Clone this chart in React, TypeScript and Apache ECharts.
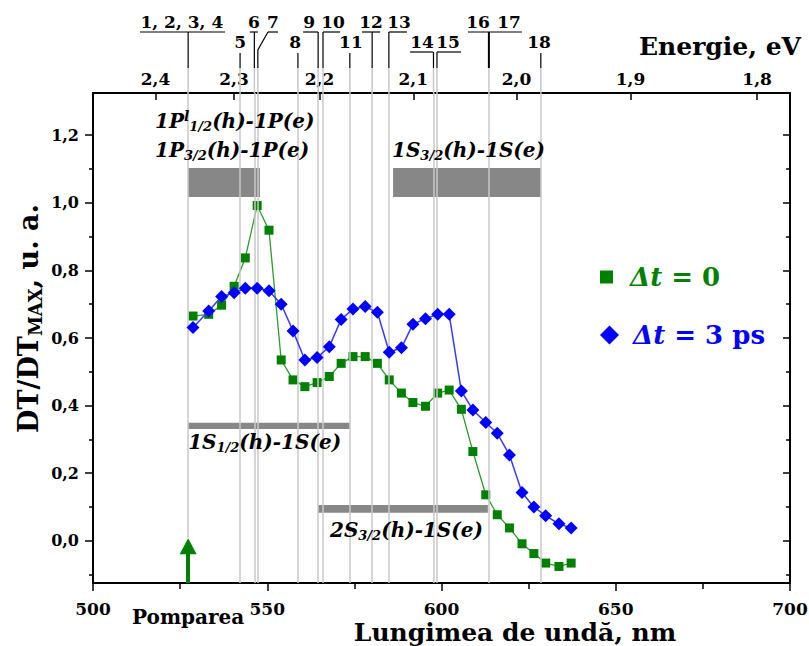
import React, { useEffect, useRef } from 'react';
import * as echarts from 'echarts';

const FONT = 'DejaVu Serif';
const SERIES_0 = 'Δt = 0';
const SERIES_3 = 'Δt = 3 ps';

// wavelength (nm) of every measured point
const wavelengths = [528.7, 533.2, 536.9, 540.5, 543.7, 547.1, 550.5, 554.0, 557.4, 560.8, 564.3, 567.8, 571.2, 574.6, 578.1, 581.6, 585.0, 588.5, 591.8, 595.4, 598.9, 602.2, 605.7, 609.0, 612.7, 616.0, 619.5, 623.1, 626.5, 629.9, 633.7, 637.2];
// DT/DTmax at Δt = 0
const dt0 = [0.665, 0.670, 0.697, 0.753, 0.837, 0.992, 0.919, 0.535, 0.476, 0.456, 0.468, 0.486, 0.525, 0.545, 0.545, 0.525, 0.476, 0.437, 0.409, 0.398, 0.437, 0.446, 0.389, 0.264, 0.136, 0.077, 0.038, -0.009, -0.038, -0.066, -0.076, -0.066];
// DT/DTmax at Δt = 3 ps
const dt3 = [0.631, 0.680, 0.723, 0.734, 0.747, 0.747, 0.740, 0.700, 0.621, 0.535, 0.542, 0.574, 0.655, 0.686, 0.693, 0.676, 0.558, 0.571, 0.641, 0.657, 0.670, 0.670, 0.443, 0.387, 0.350, 0.318, 0.254, 0.143, 0.100, 0.074, 0.050, 0.038];

const X_MIN = 500;
const X_MAX = 700;
const Y_MIN = -0.125;
const Y_MAX = 1.325;
const yMajorTicks = [0, 0.2, 0.4, 0.6, 0.8, 1.0, 1.2];
const yMinorTicks = [-0.1, 0.1, 0.3, 0.5, 0.7, 0.9, 1.1];
const energyTicks = [2.4, 2.3, 2.2, 2.1, 2.0, 1.9, 1.8];
const HC = 1243; // eV·nm

// transition wavelengths (nm), numbered 1..18 on top
const transitionLines = [527.3, 542.2, 546.3, 547.3, 558.8, 564.6, 566.0, 573.7, 580.1, 584.9, 597.7, 598.7, 613.6, 628.5];
const pumpWavelength = 527.3;
const pumpLineEnd = 0.009;
const pumpArrowEnd = -0.016;

// grey bands: [from nm, to nm, low, high]
const bandFrom = [527.3, 586.1, 527.3, 564.6];
const bandTo = [547.9, 628.5, 573.7, 613.3];
const bandLow = [1.017, 1.017, 0.331, 0.083];
const bandHigh = [1.103, 1.103, 0.349, 0.106];

// band labels (anchor at left edge, in data units)
const bandLabelText = [
  '{m|1P}{sup|l}{s|1/2}{m|(h)-1P(e)}',
  '{m|1P}{s|3/2}{m|(h)-1P(e)}',
  '{m|1S}{s|3/2}{m|(h)-1S(e)}',
  '{m|1S}{s|1/2}{m|(h)-1S(e)}',
  '{m|2S}{s|3/2}{m|(h)-1S(e)}',
];
const bandLabelX = [517.8, 517.8, 585.8, 527.3, 568.0];
const bandLabelY = [1.2415, 1.157, 1.157, 0.293, 0.0325];

// numbered transitions on top: text, text centre (nm), row, line (nm), underline (nm)
const peakLabels: { text: string; at: number; row: number; line?: number; under?: number[]; slant?: boolean }[] = [
  { text: '1, 2, 3, 4', at: 525.5, row: 0, line: 527.3, under: [513.5, 537.9] },
  { text: '5', at: 542.2, row: 1, line: 542.2 },
  { text: '6', at: 546.2, row: 0, line: 546.3, under: [545.0, 547.3] },
  { text: '7', at: 551.6, row: 0, line: 547.3, under: [550.2, 553.1], slant: true },
  { text: '8', at: 558.0, row: 1, line: 558.8 },
  { text: '9', at: 562.0, row: 0, line: 564.6, under: [560.3, 564.6] },
  { text: '10', at: 568.9, row: 0, line: 566.0, under: [566.0, 570.9] },
  { text: '11', at: 574.0, row: 1, line: 573.7 },
  { text: '12', at: 579.8, row: 0, line: 580.1, under: [577.2, 582.4] },
  { text: '13', at: 587.8, row: 0, line: 584.9, under: [584.9, 590.1] },
  { text: '14', at: 594.4, row: 1, line: 597.7, under: [591.0, 597.6] },
  { text: '15', at: 601.9, row: 1, line: 598.7, under: [598.7, 605.6] },
  { text: '16', at: 610.5, row: 0, line: 613.6, under: [607.6, 623.1] },
  { text: '17', at: 619.4, row: 0 },
  { text: '18', at: 628.0, row: 1, line: 628.5 },
];

const GREEN = '#008000';
const BLUE = '#0000ff';
const GREY_LINE = '#c8c8c8';
const GREY_BAND = '#878787';

const axisLineStyle = { color: '#000', width: 2 };
const tickStyle = { color: '#000', width: 1.5 };

function buildOption(): any {
  const yBase = { type: 'value', min: Y_MIN, max: Y_MAX, splitLine: { show: false } };
  const energyPos = energyTicks.map((e) => HC / e);
  const richItalic = {
    i: { fontFamily: FONT, fontSize: 26, fontWeight: 'bold', fontStyle: 'italic', padding: [0, 0, 0, 12] },
    n: { fontFamily: FONT, fontSize: 26, fontWeight: 'bold' },
  };
  return {
    animation: false,
    grid: { left: 93, right: 19, top: 93, bottom: 63, containLabel: false, outerBoundsMode: 'none' },
    xAxis: [
      {
        type: 'value', position: 'bottom', min: X_MIN, max: X_MAX, interval: 50,
        axisLine: { show: true, onZero: false, lineStyle: axisLineStyle },
        axisTick: { show: true, length: 8, lineStyle: tickStyle },
        minorTick: { show: true, splitNumber: 2, length: 6, lineStyle: tickStyle },
        splitLine: { show: false },
        axisLabel: { fontFamily: FONT, fontWeight: 'bold', fontSize: 17, lineHeight: 18, color: '#000', margin: 17 },
        name: 'Lungimea de undă, nm', nameLocation: 'middle', nameGap: 38, nameMoveOverlap: false,
        nameTextStyle: { fontFamily: FONT, fontWeight: 'bold', fontSize: 25, lineHeight: 22, color: '#000', padding: [0, 0, 0, 147] },
      },
      {
        type: 'value', position: 'top', min: X_MIN, max: X_MAX,
        axisLine: { show: true, onZero: false, lineStyle: axisLineStyle },
        axisTick: { show: true, inside: true, length: 7, customValues: energyPos, lineStyle: tickStyle },
        splitLine: { show: false },
        axisLabel: {
          customValues: energyPos, margin: 6,
          formatter: (v: number) => (HC / v).toFixed(1).replace('.', ','),
          fontFamily: FONT, fontWeight: 'bold', fontSize: 17, color: '#000',
        },
        name: 'Energie, eV', nameLocation: 'middle', nameGap: 34, nameMoveOverlap: false,
        nameTextStyle: { fontFamily: FONT, fontWeight: 'bold', fontSize: 25, color: '#000', padding: [0, 0, 0, 557] },
      },
    ],
    yAxis: [
      {
        ...yBase, position: 'left',
        axisLine: { show: true, onZero: false, lineStyle: axisLineStyle },
        axisTick: { show: true, length: 8, customValues: yMajorTicks, lineStyle: tickStyle },
        axisLabel: {
          customValues: yMajorTicks, margin: 14,
          formatter: (v: number) => v.toFixed(1).replace('.', ','),
          fontFamily: FONT, fontWeight: 'bold', fontSize: 16, color: '#000',
        },
        name: '{m|DT/DT}{s|MAX}{m|, u. a.}', nameLocation: 'middle', nameRotate: 90, nameGap: 49, nameMoveOverlap: false,
        nameTextStyle: {
          color: '#000', padding: [0, 0, 0, 39],
          rich: {
            m: { fontFamily: FONT, fontSize: 27, fontWeight: 'bold', lineHeight: 32, color: '#000' },
            s: { fontFamily: FONT, fontSize: 18, fontWeight: 'bold', lineHeight: 22, verticalAlign: 'bottom', color: '#000' },
          },
        },
      },
      {
        ...yBase, position: 'left',
        axisLine: { show: false },
        axisTick: { show: true, length: 4, customValues: yMinorTicks, lineStyle: tickStyle },
        axisLabel: { show: false },
      },
      {
        ...yBase, position: 'right',
        axisLine: { show: true, onZero: false, lineStyle: axisLineStyle },
        axisTick: { show: true, inside: true, length: 7, customValues: yMajorTicks, lineStyle: tickStyle },
        axisLabel: { show: false },
      },
      {
        ...yBase, position: 'right',
        axisLine: { show: false },
        axisTick: { show: true, inside: true, length: 4, customValues: yMinorTicks, lineStyle: tickStyle },
        axisLabel: { show: false },
      },
    ],
    legend: [
      {
        data: [{ name: SERIES_0, icon: 'rect' }], selectedMode: false,
        left: 595, top: 259, itemWidth: 13, itemHeight: 13,
        formatter: () => '{i|Δt}{n| = 0}',
        textStyle: { color: GREEN, rich: { i: { ...richItalic.i, color: GREEN }, n: { ...richItalic.n, color: GREEN } } },
      },
      {
        data: [{ name: SERIES_3, icon: 'diamond' }], selectedMode: false,
        left: 595, top: 317, itemWidth: 19, itemHeight: 19,
        formatter: () => '{i|Δt}{n| = 3 ps}',
        textStyle: { color: BLUE, rich: { i: { ...richItalic.i, color: BLUE, padding: [0, 0, 0, 9] }, n: { ...richItalic.n, color: BLUE } } },
      },
    ],
    series: [
      {
        type: 'line', data: [], silent: true, z: 1,
        markLine: {
          silent: true, symbol: 'none', label: { show: false },
          lineStyle: { color: GREY_LINE, width: 1.5, type: 'solid' },
          emphasis: { disabled: true },
          data: [
            ...transitionLines.filter((l) => l !== pumpWavelength).map((l) => ({ xAxis: l })),
            [{ coord: [pumpWavelength, Y_MAX] }, { coord: [pumpWavelength, pumpLineEnd] }],
          ],
        },
      },
      {
        type: 'line', data: [], silent: true, z: 2,
        markArea: {
          silent: true, label: { show: false },
          itemStyle: { color: GREY_BAND, opacity: 1 },
          emphasis: { disabled: true },
          data: bandFrom.map((f, i) => [
            { coord: [f, bandLow[i]] },
            { coord: [bandTo[i], bandHigh[i]] },
          ]),
        },
        markLine: {
          silent: true, symbol: ['none', 'triangle'], symbolSize: [17, 16], label: { show: false },
          lineStyle: { color: GREEN, width: 4, type: 'solid' },
          itemStyle: { color: GREEN },
          emphasis: { disabled: true },
          data: [[{ coord: [pumpWavelength, Y_MIN] }, { coord: [pumpWavelength, pumpArrowEnd] }]],
        },
      },
      {
        name: SERIES_0, type: 'line', z: 4,
        data: wavelengths.map((w, i) => [w, dt0[i]]),
        symbol: 'rect', symbolSize: 9,
        itemStyle: { color: GREEN },
        lineStyle: { color: '#2f9a2f', width: 1.3 },
      },
      {
        name: SERIES_3, type: 'line', z: 5,
        data: wavelengths.map((w, i) => [w, dt3[i]]),
        symbol: 'diamond', symbolSize: 13,
        itemStyle: { color: BLUE },
        lineStyle: { color: '#3a3aff', width: 1.5 },
      },
    ],
  };
}

function textStyle(text: string, x: number, y: number, size: number, extra: any = {}) {
  return {
    text, x, y, fill: '#000',
    font: `bold ${size}px "${FONT}"`,
    align: 'center', verticalAlign: 'middle',
    textAlign: 'center', textVerticalAlign: 'middle',
    ...extra,
  };
}

function buildGraphics(chart: any) {
  const px = (l: number) => chart.convertToPixel({ xAxisIndex: 0 }, l) as number;
  const py = (v: number) => chart.convertToPixel({ yAxisIndex: 0 }, v) as number;
  const plotTop = py(Y_MAX);
  const ROW_TEXT = [22, 42];
  const ROW_UNDER = [32, 52];
  const STUB = 68;
  const els: any[] = [];

  transitionLines.forEach((l) => {
    els.push({ type: 'line', silent: true, z: 1, shape: { x1: px(l), y1: STUB, x2: px(l), y2: plotTop }, style: { stroke: GREY_LINE, lineWidth: 1.5 } });
  });

  peakLabels.forEach((p) => {
    els.push({ type: 'text', silent: true, z: 5, style: textStyle(p.text, px(p.at), ROW_TEXT[p.row], 17) });
    const uy = ROW_UNDER[p.row];
    if (p.under) {
      els.push({ type: 'line', silent: true, z: 5, shape: { x1: px(p.under[0]), y1: uy, x2: px(p.under[1]), y2: uy }, style: { stroke: '#000', lineWidth: 1.2 } });
    }
    if (p.line != null) {
      const lx = px(p.line);
      const startY = p.under ? uy : 53;
      if (p.slant && p.under) {
        els.push({ type: 'polyline', silent: true, z: 5, shape: { points: [[px(p.under[0]), uy], [lx, 50], [lx, STUB]] }, style: { stroke: '#000', lineWidth: 1.2, fill: 'none' } });
      } else {
        els.push({ type: 'line', silent: true, z: 5, shape: { x1: lx, y1: startY, x2: lx, y2: STUB }, style: { stroke: '#000', lineWidth: p.text === '16' ? 2 : 1.2 } });
      }
    }
  });

  const rich = {
    m: { fontFamily: FONT, fontSize: 20, fontWeight: 'bold', fontStyle: 'italic', lineHeight: 24, fill: '#000' },
    s: { fontFamily: FONT, fontSize: 13, fontWeight: 'bold', fontStyle: 'italic', lineHeight: 14, verticalAlign: 'bottom', fill: '#000' },
    sup: { fontFamily: FONT, fontSize: 14, fontWeight: 'bold', fontStyle: 'italic', lineHeight: 14, verticalAlign: 'top', fill: '#000' },
  };
  bandLabelText.forEach((t, i) => {
    els.push({
      type: 'text', silent: true, z: 5,
      style: {
        text: t, x: px(bandLabelX[i]), y: py(bandLabelY[i]), fill: '#000',
        font: `italic bold 20px "${FONT}"`,
        align: 'left', verticalAlign: 'middle', textAlign: 'left', textVerticalAlign: 'middle',
        rich,
      },
    });
  });

  els.push({ type: 'text', silent: true, z: 5, style: textStyle('Pomparea', px(pumpWavelength), 617, 20) });
  return els;
}

export default function App() {
  const ref = useRef<HTMLDivElement>(null);
  useEffect(() => {
    document.body.style.margin = '0';
    const chart = echarts.init(ref.current!, null, { renderer: 'svg' });
    chart.setOption(buildOption());
    chart.setOption({ graphic: buildGraphics(chart) });
    return () => chart.dispose();
  }, []);
  return <div ref={ref} style={{ width: 809, height: 646 }} />;
}
